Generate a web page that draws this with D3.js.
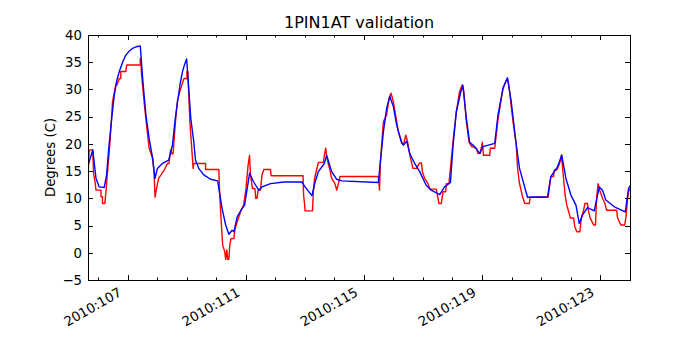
<!DOCTYPE html>
<html>
<head>
<meta charset="utf-8">
<script src="https://cdn.jsdelivr.net/npm/d3@7"></script>
<style>
  body { margin: 0; background: #fff; }
  text { font-family: "DejaVu Sans", sans-serif; fill: #000; }
</style>
</head>
<body>
<div id="chart"></div>
<script>
// model temperature (blue), day of year 2010
const blueDays = [105.66, 105.70, 105.82, 105.93, 106.04, 106.21, 106.29, 106.36, 106.44, 106.55, 106.63, 106.72, 106.83, 106.94, 107.05, 107.17, 107.30, 107.43, 107.51, 107.62, 107.73, 107.85, 107.93, 108.01, 108.18, 108.39, 108.52, 108.60, 108.69, 108.78, 108.86, 108.93, 109.00, 109.14, 109.24, 109.30, 109.42, 109.58, 109.81, 110.05, 110.20, 110.32, 110.43, 110.54, 110.60, 110.71, 110.88, 110.96, 111.05, 111.13, 111.27, 111.44, 111.55, 111.84, 112.29, 112.90, 113.01, 113.24, 113.35, 113.46, 113.66, 113.74, 113.91, 114.08, 114.25, 115.49, 115.66, 115.77, 115.88, 116.00, 116.11, 116.28, 116.34, 116.45, 116.55, 116.72, 116.89, 117.11, 117.28, 117.57, 117.73, 117.93, 118.02, 118.13, 118.27, 118.35, 118.47, 118.58, 118.75, 118.92, 119.03, 119.43, 119.54, 119.71, 119.86, 119.99, 120.16, 120.27, 120.54, 121.22, 121.33, 121.56, 121.70, 121.84, 122.01, 122.18, 122.29, 122.40, 122.57, 122.80, 122.97, 123.08, 123.19, 123.48, 123.85, 123.96, 124.01];
const blueTemps = [16.0, 16.7, 18.9, 13.7, 12.1, 12.0, 14.3, 19.0, 23.5, 29.0, 31.5, 33.3, 35.0, 36.3, 37.0, 37.55, 37.85, 38.0, 32.0, 25.3, 21.0, 17.3, 13.65, 15.5, 16.4, 17.0, 19.8, 24.0, 27.7, 31.0, 33.3, 34.6, 35.6, 24.7, 20.4, 17.0, 15.4, 14.3, 13.5, 13.2, 8.1, 5.1, 3.4, 4.15, 3.85, 6.6, 8.15, 8.75, 11.8, 14.6, 13.0, 11.5, 12.1, 12.7, 13.0, 13.0, 12.1, 10.5, 13.0, 14.9, 16.4, 17.9, 14.9, 13.5, 13.2, 12.9, 22.2, 26.5, 28.7, 26.8, 23.5, 20.1, 19.8, 20.5, 18.25, 16.4, 14.9, 12.4, 11.5, 10.7, 12.1, 12.9, 19.8, 25.9, 29.3, 30.8, 24.7, 20.3, 19.5, 18.25, 19.5, 20.1, 25.3, 30.2, 32.15, 27.7, 19.8, 15.5, 10.2, 10.3, 14.0, 15.8, 17.95, 13.65, 10.6, 8.75, 5.4, 6.9, 8.3, 7.7, 12.1, 11.5, 9.7, 8.45, 7.5, 11.8, 12.3];

// telemetry (red), quantized steps
const redDays = [105.67, 105.70, 105.82, 105.85, 105.90, 105.93, 106.10, 106.10, 106.15, 106.15, 106.23, 106.28, 106.33, 106.40, 106.49, 106.60, 106.64, 106.72, 106.77, 106.77, 106.94, 106.97, 107.43, 107.43, 107.45, 107.47, 107.56, 107.68, 107.73, 107.85, 107.90, 107.93, 107.98, 108.05, 108.13, 108.24, 108.35, 108.40, 108.46, 108.50, 108.54, 108.63, 108.69, 108.80, 108.91, 109.01, 109.01, 109.04, 109.11, 109.22, 109.24, 109.64, 109.64, 110.09, 110.12, 110.17, 110.22, 110.29, 110.32, 110.36, 110.39, 110.43, 110.46, 110.50, 110.60, 110.63, 110.71, 110.77, 110.84, 110.93, 111.01, 111.08, 111.13, 111.16, 111.23, 111.31, 111.34, 111.38, 111.42, 111.50, 111.55, 111.61, 111.84, 111.86, 112.94, 112.96, 112.99, 113.01, 113.26, 113.29, 113.33, 113.40, 113.46, 113.63, 113.66, 113.71, 113.75, 113.85, 113.91, 114.02, 114.08, 114.14, 114.19, 115.49, 115.53, 115.56, 115.66, 115.77, 115.85, 115.92, 116.00, 116.11, 116.17, 116.28, 116.34, 116.42, 116.48, 116.56, 116.66, 116.78, 116.89, 116.95, 116.98, 117.06, 117.17, 117.23, 117.45, 117.51, 117.54, 117.62, 117.68, 117.77, 117.79, 117.88, 117.94, 118.02, 118.13, 118.24, 118.33, 118.38, 118.47, 118.56, 118.65, 118.81, 118.86, 118.94, 119.01, 119.05, 119.26, 119.28, 119.43, 119.54, 119.71, 119.82, 119.88, 119.93, 120.05, 120.16, 120.20, 120.26, 120.32, 120.37, 120.45, 120.60, 120.63, 121.24, 121.28, 121.33, 121.42, 121.45, 121.53, 121.56, 121.65, 121.69, 121.76, 121.82, 121.87, 121.92, 121.99, 122.10, 122.14, 122.21, 122.31, 122.37, 122.44, 122.48, 122.57, 122.60, 122.66, 122.78, 122.84, 122.88, 122.93, 123.00, 123.08, 123.16, 123.22, 123.56, 123.59, 123.70, 123.83, 123.87, 123.93, 123.96, 124.01];
const redTemps = [15.5, 18.9, 18.9, 14.6, 13.0, 11.5, 11.5, 10.3, 10.3, 9.05, 9.05, 12.0, 15.5, 20.0, 27.7, 30.8, 30.8, 32.0, 32.0, 33.3, 33.3, 34.5, 34.5, 35.7, 35.7, 33.0, 27.7, 21.6, 19.2, 17.3, 14.3, 10.2, 11.8, 13.65, 14.3, 15.2, 16.4, 16.4, 18.9, 18.2, 18.2, 24.7, 28.0, 30.2, 32.0, 32.0, 33.3, 33.3, 24.0, 15.5, 16.4, 16.4, 15.3, 15.3, 10.6, 5.7, 1.4, 0.2, -1.2, 0.5, -1.2, -1.2, 1.4, 2.6, 2.6, 4.15, 5.7, 6.6, 7.8, 8.75, 11.8, 16.1, 17.9, 14.3, 11.8, 11.8, 10.0, 10.0, 11.5, 11.5, 14.3, 15.3, 15.3, 14.15, 14.15, 10.6, 9.05, 7.7, 7.7, 11.2, 13.65, 15.2, 16.6, 16.6, 17.9, 19.2, 17.3, 15.2, 13.65, 12.7, 11.5, 12.7, 14.0, 14.0, 11.5, 16.7, 24.1, 25.3, 28.4, 29.3, 27.7, 24.1, 22.2, 20.4, 19.8, 21.6, 20.4, 17.9, 15.5, 15.5, 16.5, 16.5, 14.9, 13.65, 12.7, 11.7, 11.7, 10.0, 9.05, 9.05, 11.2, 11.2, 12.7, 12.7, 16.0, 20.5, 25.9, 29.6, 30.8, 29.8, 24.1, 20.3, 19.5, 19.2, 18.25, 18.25, 20.3, 17.9, 17.9, 19.2, 19.2, 24.5, 30.2, 31.7, 31.7, 29.8, 24.1, 19.8, 15.8, 13.0, 11.5, 10.3, 9.05, 9.05, 10.2, 10.2, 12.1, 14.0, 14.0, 15.2, 15.2, 15.5, 16.8, 17.95, 13.65, 10.3, 8.75, 7.8, 6.4, 6.4, 4.8, 3.85, 3.85, 6.6, 7.8, 9.05, 9.05, 7.8, 6.4, 5.1, 5.1, 10.1, 12.7, 11.2, 10.0, 9.05, 7.8, 7.8, 6.4, 5.1, 5.1, 6.4, 10.0, 11.2, 11.8];

const xTickDays = [107, 111, 115, 119, 123];
const xTickLabels = ["2010:107", "2010:111", "2010:115", "2010:119", "2010:123"];
const yTicks = [-5, 0, 5, 10, 15, 20, 25, 30, 35, 40];

const W = 700, H = 350;
const mLeft = 88, mRight = 630, mTop = 35, mBottom = 280;

const svg = d3.select("#chart").append("svg")
  .attr("width", W).attr("height", H);
svg.append("rect").attr("width", W).attr("height", H).attr("fill", "#fff");

const x = d3.scaleLinear().domain([105.66, 124.01]).range([mLeft, mRight]);
const y = d3.scaleLinear().domain([-5, 40]).range([mBottom, mTop]);

svg.append("clipPath").attr("id", "clip")
  .append("rect").attr("x", mLeft).attr("y", mTop)
  .attr("width", mRight - mLeft).attr("height", mBottom - mTop);

const line = d3.line().x((d) => x(d[0])).y((d) => y(d[1]));

const redData = redDays.map((d, i) => [d, redTemps[i]]);
const blueData = blueDays.map((d, i) => [d, blueTemps[i]]);

const plot = svg.append("g").attr("clip-path", "url(#clip)");
plot.append("path").datum(redData)
  .attr("d", line).attr("fill", "none")
  .attr("stroke", "#ff0000").attr("stroke-width", 1.4)
  .attr("stroke-linejoin", "round");
plot.append("path").datum(blueData)
  .attr("d", line).attr("fill", "none")
  .attr("stroke", "#0000ff").attr("stroke-width", 1.4)
  .attr("stroke-linejoin", "round");

// ticks point inward on all four sides
const ticks = svg.append("g").attr("stroke", "#000").attr("stroke-width", 1);
const minorDays = d3.range(106, 125).filter((d) => d <= 124.01);
minorDays.forEach((d) => {
  const len = xTickDays.includes(d) ? 5 : 2.5;
  const px = Math.round(x(d)) + 0.5;
  ticks.append("line").attr("x1", px).attr("x2", px)
    .attr("y1", mBottom).attr("y2", mBottom - len);
  ticks.append("line").attr("x1", px).attr("x2", px)
    .attr("y1", mTop).attr("y2", mTop + len);
});
yTicks.forEach((v) => {
  const py = Math.round(y(v)) + 0.5;
  ticks.append("line").attr("x1", mLeft).attr("x2", mLeft + 5)
    .attr("y1", py).attr("y2", py);
  ticks.append("line").attr("x1", mRight).attr("x2", mRight - 5)
    .attr("y1", py).attr("y2", py);
});

svg.append("rect")
  .attr("x", mLeft + 0.5).attr("y", mTop + 0.5)
  .attr("width", mRight - mLeft).attr("height", mBottom - mTop)
  .attr("fill", "none").attr("stroke", "#000").attr("stroke-width", 1);

svg.selectAll(".ylab").data(yTicks).enter().append("text")
  .attr("x", mLeft - 6).attr("y", (d) => y(d))
  .attr("dy", "0.36em").attr("text-anchor", "end")
  .style("font-size", "13.3px")
  .text((d) => (d < 0 ? "\u2212" + Math.abs(d) : d));

svg.selectAll(".xlab").data(xTickDays).enter().append("text")
  .attr("text-anchor", "end")
  .attr("transform", (d) => `translate(${x(d) - 5},${mBottom + 15}) rotate(-30)`)
  .style("font-size", "13.3px")
  .text((d, i) => xTickLabels[i]);

svg.append("text")
  .attr("x", (mLeft + mRight) / 2).attr("y", 28)
  .attr("text-anchor", "middle").style("font-size", "16px")
  .text("1PIN1AT validation");

svg.append("text")
  .attr("transform", `translate(55,${(mTop + mBottom) / 2}) rotate(-90)`)
  .attr("text-anchor", "middle").style("font-size", "13.3px")
  .text("Degrees (C)");
</script>
</body>
</html>
